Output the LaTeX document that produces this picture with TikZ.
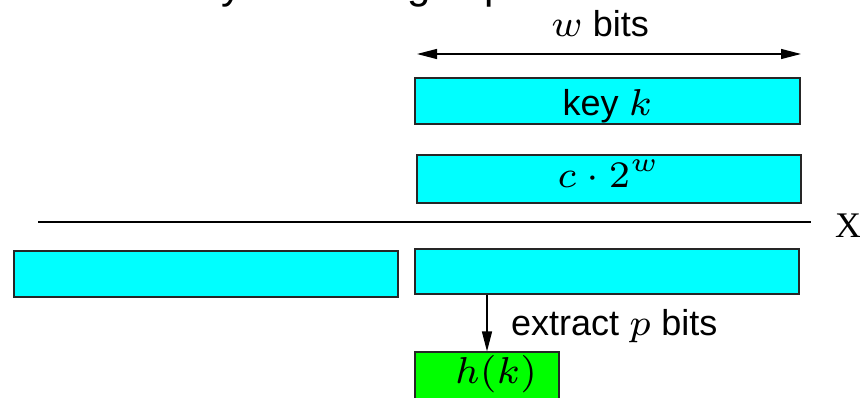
\RequirePackage{fix-cm}
\documentclass[tikz,border=0pt]{standalone}
\usepackage{fontspec}
\setmainfont{Liberation Sans}
\newfontfamily\timesfont{Liberation Serif}
\usetikzlibrary{arrows.meta}

\definecolor{wordcyan}{RGB}{0,255,255}
\definecolor{hashgreen}{RGB}{0,255,0}

% formulas: the 7pt design of the math italic, enlarged
\newcommand\mth[1]{\scalebox{5.35}{\fontsize{7}{8}\selectfont$#1$}}

\tikzset{
  wordbox/.style={draw=black!85, line width=1.1pt, fill=wordcyan, inner sep=0pt,
    minimum width=384pt, minimum height=46pt, font=\fontsize{36}{42}\selectfont},
  resultbox/.style={wordbox, fill=hashgreen, minimum width=144pt, minimum height=48pt},
  lbl/.style={inner sep=0pt, font=\fontsize{36}{42}\selectfont},
  conn/.style={line width=1.2pt, -{Triangle[length=20pt,width=10pt]}},
}

\begin{document}
\begin{tikzpicture}[x=1pt, y=-1pt]
  \useasboundingbox (0,0) rectangle (860,398);

  % descenders of the heading line above
  \node[lbl, anchor=base west, font=\fontsize{42}{48}\selectfont] (hy) at (221,-1.8) {y};
  \node[lbl, anchor=base west, font=\fontsize{42}{48}\selectfont] (hg) at (407,-1.8) {g};
  \node[lbl, anchor=base west, font=\fontsize{42}{48}\selectfont] (hp) at (484,-1.8) {p};

  % word width marker
  \node[lbl, anchor=base] (wbits) at (600,37) {\mth{w} bits};
  \coordinate (wl) at (417,54);
  \coordinate (wr) at (801,54);
  \draw[line width=1.2pt, {Triangle[length=20pt,width=10pt]}-{Triangle[length=20pt,width=10pt]}] (wl) -- (wr);

  % operands
  \node[wordbox, minimum width=385pt, text height=30pt, text depth=0pt] (key) at (607.5,101) {key \mth{k}};
  \node[wordbox, minimum height=48pt, text height=18pt, text depth=0pt] (mult) at (609,179) {\mth{c\cdot 2^w}};

  % multiplication rule and sign
  \coordinate (rl) at (38,222);
  \coordinate (rr) at (811,222);
  \draw[line width=1.3pt] (rl) -- (rr);
  \node[lbl, anchor=base, font=\timesfont\fontsize{36}{42}\selectfont] (times) at (848,238) {X};

  % product: high and low words
  \node[wordbox] (high) at (206,274) {};
  \node[wordbox, minimum height=45pt] (low) at (607,271.5) {};

  % extracted hash value
  \node[resultbox] (hash) at (487,376) {};
  \node[lbl, anchor=base] (hk) at (496,383) {\mth{h(k)}};
  \draw[conn] (low.south -| hash) -- (hash.north);
  \node[lbl, anchor=base west] (extract) at (511,335) {extract \mth{p} bits};
\end{tikzpicture}
\end{document}
